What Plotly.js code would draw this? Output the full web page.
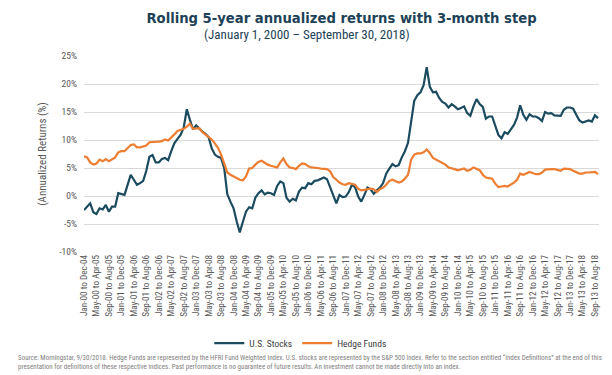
<!DOCTYPE html>
<html>
<head>
<meta charset="utf-8">
<script src="https://cdn.plot.ly/plotly-3.0.1.min.js"></script>
<style>
  html, body { margin: 0; padding: 0; background: #ffffff; }
  #chart { width: 612px; height: 375px; }
</style>
</head>
<body>
<div id="chart"></div>
<script>
// Rolling 5-year windows, one per month start: Jan-00 to Dec-04 ... Oct-13 to Sep-18
const monthNames = ["Jan","Feb","Mar","Apr","May","Jun","Jul","Aug","Sep","Oct","Nov","Dec"];
const firstStartYear = 2000;
const windowCount = 166;

function monthLabel(k) {
  const y = firstStartYear + Math.floor(k / 12);
  return monthNames[k % 12] + "-" + String(y % 100).padStart(2, "0");
}
const categories = [];
for (let k = 0; k < windowCount; k++) {
  categories.push(monthLabel(k) + " to " + monthLabel(k + 59));
}

// Annualized returns (%)
const usStocks = [
  -2.5, -1.9, -1.3, -2.9, -3.2, -2.2, -2.4, -1.6, -2.8, -1.9,
  -1.9, 0.5, 0.4, 0.2, 2.0, 3.8, 2.9, 2.0, 2.3, 2.7,
  4.5, 7.0, 7.3, 6.0, 6.0, 6.6, 6.8, 6.4, 8.0, 9.4,
  10.2, 10.9, 12.2, 15.5, 13.6, 11.9, 12.6, 12.0, 11.5, 11.1,
  10.5, 8.5, 7.4, 7.0, 6.8, 5.0, 0.3, -1.0, -2.2, -4.5,
  -6.5, -4.6, -2.8, -2.0, -2.2, -0.3, 0.5, 1.0, 0.3, 0.6,
  0.5, 0.2, 1.8, 2.6, 2.3, -0.3, -1.0, -0.5, -0.8, 0.8,
  1.5, 1.4, 2.3, 2.1, 2.7, 2.8, 3.0, 3.3, 3.0, 1.6,
  0.2, -1.3, 0.2, -0.2, -0.1, 0.7, 2.0, 1.6, -0.1, -1.0,
  0.2, 1.5, 1.2, 0.4, 1.0, 1.5, 2.3, 4.0, 4.9, 5.7,
  5.3, 5.5, 6.9, 8.0, 9.5, 13.0, 17.0, 18.0, 18.5, 19.8,
  23.0, 19.5, 18.5, 18.6, 17.5, 16.8, 16.5, 15.8, 16.4, 16.0,
  15.5, 15.7, 16.0, 14.8, 14.3, 16.0, 17.3, 16.4, 15.9, 13.8,
  14.2, 14.2, 12.5, 10.9, 10.3, 11.4, 11.1, 11.9, 12.7, 14.0,
  16.2, 14.5, 13.6, 14.6, 14.2, 14.2, 13.9, 13.4, 15.0, 14.7,
  14.8, 14.4, 14.3, 14.3, 15.4, 15.8, 15.8, 15.6, 14.5, 13.5,
  13.1, 13.3, 13.5, 13.3, 14.4, 13.9
];
const hedgeFunds = [
  7.1, 6.9, 6.0, 5.6, 5.8, 6.5, 6.2, 6.6, 6.2, 6.5,
  6.9, 7.8, 8.0, 8.0, 8.5, 9.1, 9.2, 8.7, 8.7, 8.8,
  9.0, 9.6, 9.6, 9.6, 9.7, 9.8, 10.1, 9.9, 10.4, 11.0,
  11.6, 11.8, 12.0, 12.4, 12.9, 12.0, 12.0, 12.1, 11.4, 11.0,
  10.6, 10.1, 9.4, 8.6, 7.4, 5.8, 4.2, 3.8, 3.5, 3.2,
  2.9, 2.8, 3.5, 4.9, 5.0, 5.6, 6.1, 6.3, 5.9, 5.6,
  5.4, 5.3, 5.1, 6.0, 6.7, 5.7, 5.1, 5.0, 4.8, 5.4,
  5.8, 5.7, 5.3, 5.1, 5.1, 5.0, 4.9, 4.8, 4.8, 4.4,
  3.4, 2.9, 2.4, 2.1, 2.0, 2.3, 2.2, 2.0, 1.3, 1.0,
  1.1, 1.2, 1.3, 1.2, 0.7, 1.2, 1.5, 2.0, 2.7, 2.9,
  2.7, 2.4, 2.6, 3.1, 3.8, 6.5, 7.4, 7.6, 7.6, 7.8,
  8.3, 7.7, 6.8, 6.5, 6.2, 5.9, 5.6, 5.1, 5.0, 4.8,
  4.6, 4.8, 4.9, 4.5, 4.7, 5.1, 4.9, 4.6, 3.8, 3.3,
  3.2, 3.1, 2.2, 1.6, 1.7, 1.8, 1.7, 2.0, 2.4, 2.9,
  4.0, 3.8, 4.0, 4.3, 4.1, 3.9, 3.9, 4.2, 4.7, 4.8,
  4.8, 4.8, 4.7, 4.5, 4.9, 4.9, 4.8, 4.5, 4.2, 4.0,
  4.0, 4.2, 4.2, 4.3, 4.3, 3.9
];

const yTickValues = [-10, -5, 0, 5, 10, 15, 20, 25];
const yTickLabels = ["-10%", "-5%", "0%", "5%", "10%", "15%", "20%", "25%"];
const xTickValues = categories.filter((c, k) => k % 4 === 0);

const seriesNames = ["U.S. Stocks", "Hedge Funds"];
const titleText = "Rolling 5-year annualized returns with 3-month step";
const subtitleText = "(January 1, 2000 \u2013 September 30, 2018)";
const yTitleText = "(Annualized Returns (%)";
const footnoteText = "Source: Morningstar, 9/30/2018. Hedge Funds are represented by the HFRI Fund Weighted Index. U.S. stocks are represented by the S&P 500 Index. Refer to the section entitled \u201cIndex Definitions\u201d at the end of this<br>presentation for definitions of these respective indices. Past performance is no guarantee of future results. An investment cannot be made directly into an index.";

const narrow = "'Liberation Sans Narrow', 'Arial Narrow', 'Roboto Condensed', 'Liberation Sans', sans-serif";

const traces = [
  { x: categories, y: usStocks, name: seriesNames[0], type: "scatter", mode: "lines",
    line: { color: "#1b4b5f", width: 2.2 } },
  { x: categories, y: hedgeFunds, name: seriesNames[1], type: "scatter", mode: "lines",
    line: { color: "#ed7d31", width: 2.2 } }
];

const layout = {
  width: 612, height: 375,
  margin: { l: 84, r: 13, t: 56, b: 123 },
  paper_bgcolor: "#ffffff", plot_bgcolor: "#ffffff",
  font: { family: narrow, color: "#595959" },
  title: { text: "<b>" + titleText + "</b>", x: 0.5, xanchor: "center", xref: "paper",
           y: 1 - 18 / 375, yref: "container", yanchor: "middle",
           font: { family: "'DejaVu Sans', sans-serif", size: 13.2, color: "#1d4257" } },
  showlegend: true,
  legend: { orientation: "h", x: 0.42, xanchor: "center", y: -0.465, yanchor: "middle",
            font: { family: narrow, size: 9.5, color: "#404040" }, itemwidth: 30,
            bgcolor: "rgba(0,0,0,0)" },
  xaxis: {
    type: "category", range: [0, 165.3], tickmode: "array", tickvals: xTickValues, ticktext: xTickValues,
    tickangle: -90, tickfont: { family: narrow, size: 9.2, color: "#595959" },
    showgrid: false, showline: false, zeroline: false, ticks: "", ticklen: 0, automargin: false
  },
  yaxis: {
    range: [-10, 25], tickmode: "array", tickvals: yTickValues, ticktext: yTickLabels,
    tickfont: { family: narrow, size: 9.5, color: "#595959" },
    showgrid: true, gridcolor: "#d9d9d9", gridwidth: 1, zeroline: false, showline: false,
    ticks: "", ticklabelstandoff: 6, automargin: false,
    title: { text: yTitleText, standoff: 10, font: { family: narrow, size: 11, color: "#595959" } }
  },
  annotations: [
    { text: subtitleText, xref: "paper", yref: "paper", x: (307 - 84) / 515, y: (252 - 35) / 196,
      xanchor: "center", yanchor: "middle", showarrow: false,
      font: { family: narrow, size: 13, color: "#1d4257" } },
    { text: footnoteText, xref: "paper", yref: "paper", x: (16 - 84) / 515, y: (252 - 352) / 196,
      xanchor: "left", yanchor: "top", align: "left", showarrow: false,
      font: { family: narrow, size: 7.0, color: "#7f7f7f" } }
  ]
};

Plotly.newPlot("chart", traces, layout, { displayModeBar: false, staticPlot: true });
</script>
</body>
</html>
